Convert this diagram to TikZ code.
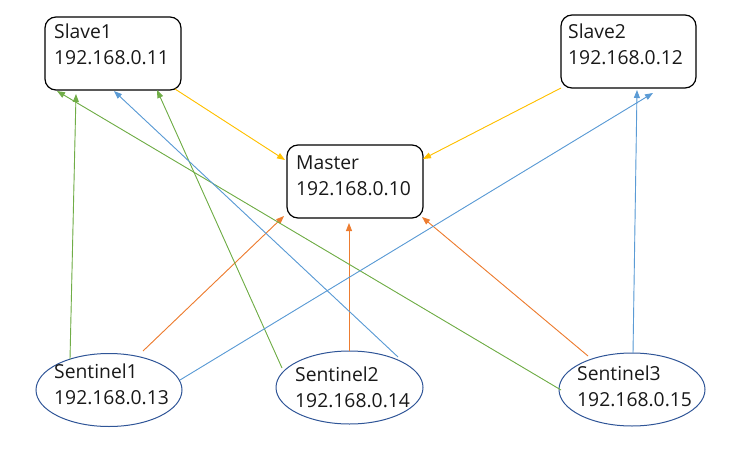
\documentclass[tikz,border=0pt]{standalone}
\usepackage{fontspec}
\setmainfont{Open Sans}
\usetikzlibrary{arrows.meta,calc,shapes.geometric}
\definecolor{cyel}{HTML}{FFC000}
\definecolor{corg}{HTML}{ED7D31}
\definecolor{cgrn}{HTML}{70AD47}
\definecolor{cblu}{HTML}{5B9BD5}
\definecolor{cell}{HTML}{2F5597}
\tikzset{
  hostbox/.style={draw=black,line width=1.2pt,rounded corners=11pt,minimum width=136pt,minimum height=73pt,inner sep=0pt},
  sentell/.style={draw=cell,line width=1pt,ellipse,minimum width=146pt,minimum height=73pt,inner sep=0pt},
  txt/.style={font=\fontsize{19.3}{26}\selectfont,align=left,inner sep=0pt,anchor=base west,text=black!90},
  conn/.style={line width=0.9pt,-{Triangle[length=8pt,width=6pt]}},
  yel/.style={conn,draw=cyel,fill=cyel},
  org/.style={conn,draw=corg,fill=corg},
  grn/.style={conn,draw=cgrn,fill=cgrn},
  blu/.style={conn,draw=cblu,fill=cblu}
}
\begin{document}
\begin{tikzpicture}[x=1pt,y=-1pt]
\useasboundingbox (0,0) rectangle (754,449);
\node[hostbox] (slave1) at (113,53.5) {};
\node[hostbox] (master) at (355,181.5) {};
\node[hostbox,minimum width=135pt] (slave2) at (628.5,51.5) {};
\node[sentell] (sen1) at (109,390) {};
\node[sentell,minimum width=147pt] (sen2) at (349.5,387.5) {};
\node[sentell] (sen3) at (632,389.5) {};
\node[txt] (slave1t) at (54,65) {Slave1\\192.168.0.11};
\node[txt] (mastert) at (296,195) {Master\\192.168.0.10};
\node[txt] (slave2t) at (568,65) {Slave2\\192.168.0.12};
\node[txt] (sen1t) at (54,404) {Sentinel1\\192.168.0.13};
\node[txt] (sen2t) at (295,407) {Sentinel2\\192.168.0.14};
\node[txt] (sen3t) at (577,406) {Sentinel3\\192.168.0.15};
% yellow
\draw[yel] ($(slave1.center)+(62,35.5)$) -- ($(master.center)+(-70,-21.5)$);
\draw[yel] ($(slave2.center)+(-67.5,36.5)$) -- ($(master.center)+(68,-22.5)$);
% orange
\draw[org] ($(sen1.center)+(34,-39)$) -- ($(master.center)+(-71,34.5)$);
\draw[org] ($(sen2.center)+(-0.5,-36.5)$) -- ($(master.center)+(-6,41.5)$);
\draw[org] ($(sen3.center)+(-44,-33.5)$) -- ($(master.center)+(67,35.5)$);
% green
\draw[grn] ($(sen1.center)+(-39,-31)$) -- ($(slave1.center)+(-37,40.5)$);
\draw[grn] ($(sen2.center)+(-67.5,-19.5)$) -- ($(slave1.center)+(44,36.5)$);
\draw[grn] ($(sen3.center)+(-71,0.5)$) -- ($(slave1.center)+(-56,37.5)$);
% blue
\draw[blu] ($(sen2.center)+(48.5,-30.5)$) -- ($(slave1.center)+(1,37.5)$);
\draw[blu] ($(sen1.center)+(71,-10)$) -- ($(slave2.center)+(24.5,41.5)$);
\draw[blu] ($(sen3.center)+(1,-36.5)$) -- ($(slave2.center)+(8.5,38.5)$);
\end{tikzpicture}
\end{document}
